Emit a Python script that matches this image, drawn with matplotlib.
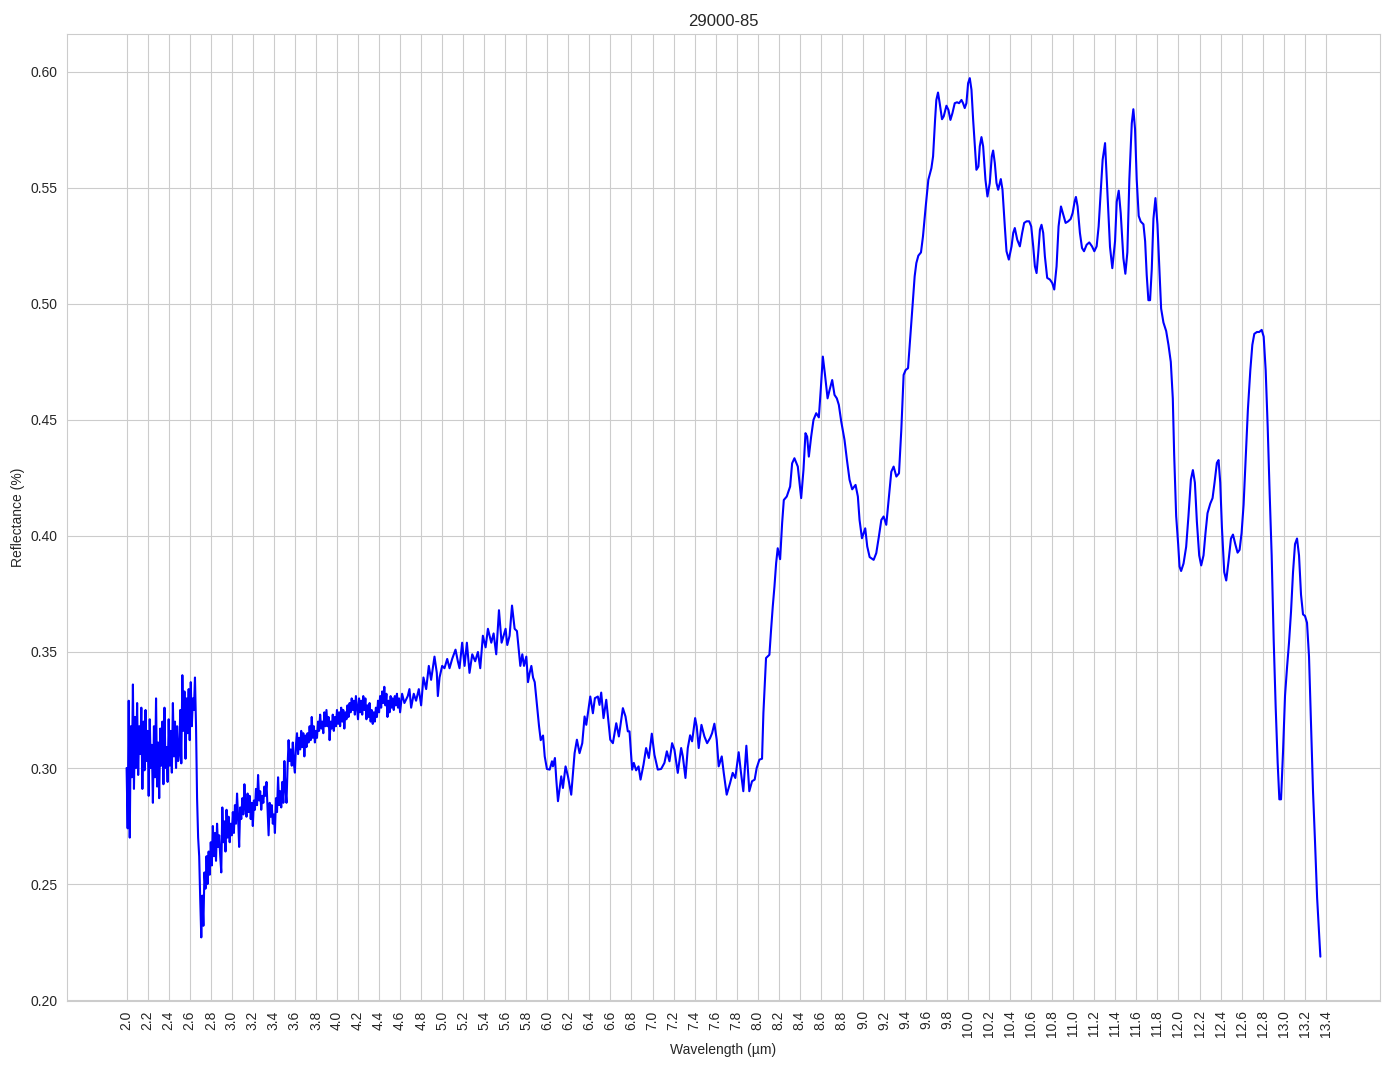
import numpy as np
import matplotlib
matplotlib.use("Agg")
import matplotlib.pyplot as plt
import seaborn as sns

# --- spectrum, sample 29000-85 ---

# noisy short-wave part, 0.01 um steps
noisy_wl = np.round(np.arange(2.00, 2.715, 0.01), 2)
noisy_refl = [
    0.300, 0.274, 0.329, 0.270, 0.318, 0.296, 0.336, 0.291, 0.322, 0.300,
    0.328, 0.297, 0.318, 0.306, 0.326, 0.291, 0.320, 0.299, 0.325, 0.303,
    0.316, 0.288, 0.321, 0.300, 0.310, 0.285, 0.318, 0.296, 0.330, 0.292,
    0.311, 0.287, 0.317, 0.301, 0.320, 0.293, 0.326, 0.300, 0.309, 0.294,
    0.321, 0.301, 0.316, 0.298, 0.328, 0.305, 0.320, 0.300, 0.318, 0.303,
    0.306, 0.325, 0.302, 0.340, 0.316, 0.333, 0.304, 0.330, 0.315, 0.334,
    0.312, 0.337, 0.318, 0.330, 0.325, 0.339, 0.318, 0.287, 0.270, 0.262,
    0.243, 0.227,
]

# recovery after the 2.7 um dip, still noisy, 0.01 um steps
rise_wl = np.round(np.arange(2.72, 4.605, 0.01), 2)
rise_refl = [
    0.245, 0.232, 0.255, 0.248, 0.262, 0.250, 0.264, 0.254, 0.268, 0.258,
    0.275, 0.262, 0.272, 0.260, 0.276, 0.266, 0.271, 0.262, 0.255, 0.283,
    0.268, 0.277, 0.264, 0.282, 0.270, 0.279, 0.268, 0.276, 0.271, 0.281,
    0.272, 0.284, 0.276, 0.289, 0.279, 0.266, 0.283, 0.278, 0.287, 0.280,
    0.293, 0.283, 0.279, 0.289, 0.281, 0.288, 0.278, 0.285, 0.275, 0.286,
    0.282, 0.291, 0.284, 0.297, 0.286, 0.290, 0.282, 0.288, 0.285, 0.292,
    0.288, 0.294, 0.283, 0.271, 0.285, 0.279, 0.284, 0.276, 0.280, 0.272,
    0.287, 0.281, 0.296, 0.284, 0.290, 0.283, 0.294, 0.285, 0.303, 0.291,
    0.285, 0.300, 0.312, 0.303, 0.308, 0.301, 0.311, 0.302, 0.298, 0.310,
    0.315, 0.306, 0.313, 0.308, 0.316, 0.309, 0.315, 0.305, 0.314, 0.309,
    0.315, 0.311, 0.318, 0.312, 0.322, 0.313, 0.318, 0.311, 0.316, 0.313,
    0.320, 0.316, 0.323, 0.317, 0.320, 0.315, 0.324, 0.318, 0.325, 0.318,
    0.322, 0.312, 0.320, 0.317, 0.323, 0.316, 0.322, 0.318, 0.325, 0.319,
    0.324, 0.318, 0.326, 0.320, 0.325, 0.317, 0.324, 0.321, 0.327, 0.322,
    0.328, 0.324, 0.330, 0.325, 0.329, 0.323, 0.331, 0.326, 0.321, 0.330,
    0.324, 0.329, 0.323, 0.331, 0.325, 0.330, 0.321, 0.327, 0.322, 0.328,
    0.320, 0.325, 0.319, 0.324, 0.320, 0.326, 0.322, 0.329, 0.324, 0.331,
    0.326, 0.333, 0.328, 0.335, 0.327, 0.332, 0.322, 0.329, 0.324, 0.331,
    0.326, 0.330, 0.325, 0.331, 0.327, 0.332, 0.326, 0.330, 0.324,
]

# 4.6 - 6.0 um
mid_wl = [
    4.619, 4.641, 4.673, 4.689, 4.705, 4.730, 4.752, 4.778, 4.800, 4.822,
    4.848, 4.873, 4.895, 4.927, 4.949, 4.959, 4.975, 5.000, 5.022, 5.048,
    5.070, 5.095, 5.127, 5.149, 5.165, 5.190, 5.213, 5.235, 5.260, 5.286,
    5.314, 5.340, 5.362, 5.387, 5.413, 5.435, 5.467, 5.489, 5.514, 5.540,
    5.565, 5.584, 5.603, 5.619, 5.641, 5.664, 5.689, 5.711, 5.730, 5.743,
    5.762, 5.778, 5.800, 5.816, 5.832, 5.848, 5.864, 5.880, 5.902, 5.921,
    5.937, 5.959, 5.975,
]
mid_refl = [
    0.332, 0.328, 0.331, 0.334, 0.326, 0.332, 0.329, 0.334, 0.327, 0.339,
    0.334, 0.344, 0.338, 0.348, 0.341, 0.331, 0.339, 0.344, 0.343, 0.347,
    0.343, 0.347, 0.351, 0.346, 0.343, 0.354, 0.344, 0.354, 0.341, 0.349,
    0.346, 0.350, 0.343, 0.357, 0.352, 0.360, 0.354, 0.358, 0.349, 0.368,
    0.354, 0.357, 0.360, 0.353, 0.357, 0.370, 0.360, 0.359, 0.350, 0.344,
    0.349, 0.344, 0.348, 0.337, 0.341, 0.344, 0.339, 0.337, 0.327, 0.318,
    0.312, 0.314, 0.305,
]

# 6.0 - 13.35 um
ir_wl = [
    5.996, 6.022, 6.044, 6.053, 6.072, 6.085, 6.101, 6.132, 6.148, 6.173,
    6.196, 6.227, 6.259, 6.281, 6.306, 6.332, 6.354, 6.370, 6.408, 6.433,
    6.452, 6.480, 6.496, 6.512, 6.534, 6.560, 6.598, 6.623, 6.655, 6.680,
    6.718, 6.743, 6.765, 6.781, 6.806, 6.822, 6.844, 6.867, 6.886, 6.914,
    6.939, 6.965, 6.993, 7.018, 7.050, 7.082, 7.113, 7.136, 7.161, 7.186,
    7.208, 7.240, 7.272, 7.288, 7.313, 7.335, 7.357, 7.376, 7.405, 7.420,
    7.439, 7.465, 7.493, 7.519, 7.547, 7.566, 7.588, 7.610, 7.629, 7.658,
    7.677, 7.705, 7.737, 7.762, 7.787, 7.819, 7.841, 7.863, 7.892, 7.920,
    7.946, 7.971, 7.990, 8.016, 8.041, 8.054, 8.079, 8.111, 8.127, 8.143,
    8.159, 8.175, 8.190, 8.213, 8.232, 8.248, 8.276, 8.308, 8.327, 8.349,
    8.381, 8.413, 8.435, 8.454, 8.470, 8.486, 8.508, 8.530, 8.556, 8.581,
    8.600, 8.619, 8.638, 8.664, 8.683, 8.708, 8.730, 8.752, 8.771, 8.794,
    8.825, 8.848, 8.873, 8.898, 8.930, 8.952, 8.968, 8.991, 9.022, 9.041,
    9.064, 9.102, 9.127, 9.152, 9.175, 9.197, 9.222, 9.248, 9.270, 9.292,
    9.318, 9.343, 9.365, 9.387, 9.406, 9.429, 9.444, 9.470, 9.492, 9.508,
    9.527, 9.552, 9.571, 9.597, 9.622, 9.651, 9.667, 9.686, 9.698, 9.714,
    9.730, 9.752, 9.768, 9.794, 9.813, 9.832, 9.851, 9.873, 9.895, 9.914,
    9.937, 9.952, 9.968, 9.984, 10.000, 10.016, 10.032, 10.048, 10.064, 10.079,
    10.098, 10.111, 10.127, 10.143, 10.165, 10.184, 10.206, 10.225, 10.238, 10.254,
    10.270, 10.286, 10.311, 10.327, 10.349, 10.365, 10.387, 10.413, 10.429, 10.444,
    10.467, 10.492, 10.514, 10.533, 10.556, 10.581, 10.600, 10.619, 10.635, 10.651,
    10.667, 10.683, 10.698, 10.714, 10.730, 10.752, 10.778, 10.800, 10.819, 10.841,
    10.860, 10.883, 10.905, 10.927, 10.952, 10.975, 10.994, 11.013, 11.025, 11.041,
    11.063, 11.083, 11.102, 11.127, 11.152, 11.178, 11.200, 11.222, 11.241, 11.260,
    11.279, 11.302, 11.324, 11.349, 11.371, 11.397, 11.413, 11.432, 11.451, 11.476,
    11.495, 11.514, 11.533, 11.556, 11.571, 11.587, 11.603, 11.622, 11.641, 11.667,
    11.683, 11.698, 11.714, 11.730, 11.746, 11.762, 11.781, 11.800, 11.819, 11.835,
    11.857, 11.883, 11.905, 11.927, 11.946, 11.959, 11.978, 11.997, 12.010, 12.025,
    12.048, 12.073, 12.095, 12.118, 12.137, 12.156, 12.175, 12.197, 12.216, 12.238,
    12.257, 12.276, 12.302, 12.324, 12.343, 12.365, 12.381, 12.397, 12.413, 12.435,
    12.454, 12.476, 12.499, 12.518, 12.540, 12.562, 12.581, 12.600, 12.619, 12.641,
    12.660, 12.683, 12.702, 12.721, 12.746, 12.768, 12.791, 12.810, 12.829, 12.848,
    12.867, 12.886, 12.905, 12.924, 12.943, 12.959, 12.975, 12.994, 13.013, 13.032,
    13.051, 13.070, 13.089, 13.108, 13.127, 13.146, 13.165, 13.184, 13.203, 13.222,
    13.241, 13.260, 13.279, 13.298, 13.318, 13.333, 13.349,
]
ir_refl = [
    0.2996, 0.2993, 0.3029, 0.3007, 0.3043, 0.2950, 0.2857, 0.2964, 0.2914, 0.3007,
    0.2964, 0.2885, 0.3064, 0.3122, 0.3064, 0.3107, 0.3222, 0.3186, 0.3308, 0.3236,
    0.3301, 0.3308, 0.3272, 0.3325, 0.3215, 0.3294, 0.3122, 0.3107, 0.3193, 0.3136,
    0.3258, 0.3222, 0.3158, 0.3158, 0.2993, 0.3022, 0.2990, 0.3007, 0.2950, 0.3014,
    0.3086, 0.3043, 0.3148, 0.3057, 0.2993, 0.2996, 0.3022, 0.3072, 0.3029, 0.3107,
    0.3079, 0.2979, 0.3086, 0.3050, 0.2957, 0.3086, 0.3141, 0.3115, 0.3215, 0.3179,
    0.3086, 0.3186, 0.3136, 0.3107, 0.3129, 0.3150, 0.3191, 0.3122, 0.3007, 0.3050,
    0.2979, 0.2885, 0.2935, 0.2979, 0.2957, 0.3068, 0.2979, 0.2900, 0.3096, 0.2900,
    0.2943, 0.2950, 0.3000, 0.3036, 0.3040, 0.3237, 0.3474, 0.3488, 0.3596, 0.3696,
    0.3782, 0.3883, 0.3947, 0.3900, 0.4055, 0.4155, 0.4170, 0.4213, 0.4313, 0.4335,
    0.4299, 0.4163, 0.4285, 0.4443, 0.4428, 0.4342, 0.4428, 0.4500, 0.4529, 0.4511,
    0.4636, 0.4773, 0.4701, 0.4593, 0.4629, 0.4672, 0.4608, 0.4593, 0.4565, 0.4493,
    0.4414, 0.4328, 0.4242, 0.4201, 0.4220, 0.4170, 0.4069, 0.3990, 0.4033, 0.3955,
    0.3909, 0.3897, 0.3926, 0.3998, 0.4069, 0.4084, 0.4048, 0.4170, 0.4277, 0.4299,
    0.4256, 0.4270, 0.4457, 0.4694, 0.4715, 0.4723, 0.4816, 0.4983, 0.5119, 0.5176,
    0.5208, 0.5222, 0.5291, 0.5420, 0.5535, 0.5585, 0.5636, 0.5793, 0.5879, 0.5911,
    0.5865, 0.5796, 0.5808, 0.5854, 0.5836, 0.5793, 0.5822, 0.5865, 0.5869, 0.5865,
    0.5879, 0.5865, 0.5844, 0.5865, 0.5951, 0.5973, 0.5923, 0.5793, 0.5679, 0.5578,
    0.5592, 0.5679, 0.5719, 0.5679, 0.5535, 0.5463, 0.5521, 0.5636, 0.5661, 0.5607,
    0.5521, 0.5492, 0.5538, 0.5492, 0.5334, 0.5227, 0.5191, 0.5248, 0.5306, 0.5327,
    0.5277, 0.5248, 0.5306, 0.5349, 0.5356, 0.5356, 0.5334, 0.5248, 0.5162, 0.5133,
    0.5220, 0.5320, 0.5341, 0.5306, 0.5205, 0.5112, 0.5105, 0.5090, 0.5062, 0.5162,
    0.5334, 0.5420, 0.5384, 0.5349, 0.5356, 0.5366, 0.5392, 0.5442, 0.5461, 0.5420,
    0.5306, 0.5241, 0.5227, 0.5255, 0.5265, 0.5248, 0.5227, 0.5248, 0.5334, 0.5478,
    0.5621, 0.5693, 0.5488, 0.5246, 0.5154, 0.5270, 0.5440, 0.5488, 0.5391, 0.5198,
    0.5130, 0.5222, 0.5536, 0.5778, 0.5839, 0.5754, 0.5536, 0.5379, 0.5355, 0.5343,
    0.5270, 0.5125, 0.5016, 0.5016, 0.5149, 0.5367, 0.5456, 0.5343, 0.5149, 0.4980,
    0.4920, 0.4883, 0.4823, 0.4750, 0.4593, 0.4351, 0.4086, 0.3965, 0.3868, 0.3849,
    0.3881, 0.3953, 0.4086, 0.4243, 0.4284, 0.4230, 0.4061, 0.3916, 0.3873, 0.3916,
    0.4013, 0.4098, 0.4139, 0.4163, 0.4230, 0.4315, 0.4327, 0.4230, 0.4037, 0.3844,
    0.3808, 0.3892, 0.3989, 0.4006, 0.3965, 0.3928, 0.3940, 0.4013, 0.4134, 0.4351,
    0.4545, 0.4714, 0.4823, 0.4871, 0.4879, 0.4879, 0.4888, 0.4859, 0.4714, 0.4472,
    0.4182, 0.3916, 0.3554, 0.3264, 0.3022, 0.2865, 0.2865, 0.3070, 0.3312, 0.3433,
    0.3541, 0.3674, 0.3844, 0.3965, 0.3989, 0.3916, 0.3747, 0.3662, 0.3655, 0.3626,
    0.3481, 0.3191, 0.2900, 0.2683, 0.2441, 0.2320, 0.2187,
]

wavelength = np.concatenate([noisy_wl, rise_wl, mid_wl, ir_wl])
reflectance = np.concatenate([noisy_refl, rise_refl, mid_refl, ir_refl])

sample_name = "29000-85"
x_ticks = np.round(np.arange(2.0, 13.41, 0.2), 1)

# --- plot ---
sns.set_style("whitegrid")
plt.rcParams['font.family'] = ['Liberation Sans', 'DejaVu Sans']

fig, ax = plt.subplots(figsize=(13.94, 10.69), dpi=100)
ax.plot(wavelength, reflectance, color='blue', linewidth=1.5)

ax.set_title(sample_name, fontsize=12)
ax.set_xlabel("Wavelength (µm)", fontsize=10)
ax.set_ylabel("Reflectance (%)", fontsize=10)
ax.set_xticks(x_ticks)
ax.set_xticklabels([f"{t:.1f}" for t in x_ticks], rotation=90)
ax.tick_params(labelsize=10)

plt.subplots_adjust(left=0.048, right=0.990, top=0.968, bottom=0.064)
plt.savefig("out.png", dpi=100)
